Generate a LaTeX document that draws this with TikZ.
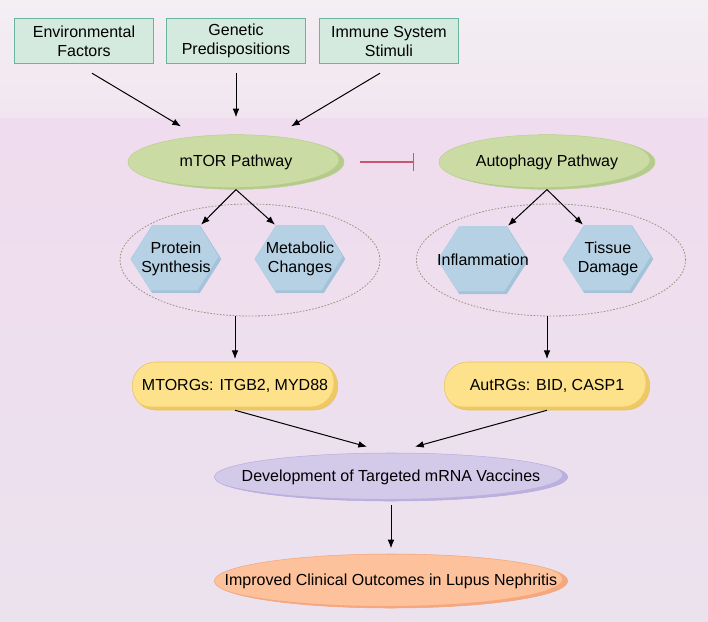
\documentclass[tikz,border=0pt]{standalone}
\usepackage{fontspec}
\setmainfont{Liberation Sans}
\usetikzlibrary{shapes.geometric,shapes.symbols,arrows.meta,calc}

\definecolor{bgtopA}{HTML}{F3EFF3}
\definecolor{bgtopB}{HTML}{F1E6F0}
\definecolor{bgmainA}{HTML}{EFDCEE}
\definecolor{bgmainB}{HTML}{ECE2EE}
\definecolor{boxfill}{HTML}{D4EADF}
\definecolor{boxline}{HTML}{6AB5A0}
\definecolor{pathfill}{HTML}{CADBA4}
\definecolor{pathline}{HTML}{BCD092}
\definecolor{pathshade}{HTML}{B5CB8C}
\definecolor{hexfill}{HTML}{B6D1E3}
\definecolor{hexshade}{HTML}{A3C3DA}
\definecolor{groupline}{HTML}{9A9480}
\definecolor{genefill}{HTML}{FDE28B}
\definecolor{geneline}{HTML}{E7C466}
\definecolor{geneshade}{HTML}{EDC865}
\definecolor{vacfill}{HTML}{D3CAEA}
\definecolor{vacline}{HTML}{B9ADDC}
\definecolor{vacshade}{HTML}{BCB0DE}
\definecolor{outfill}{HTML}{FDC29C}
\definecolor{outline}{HTML}{F2A680}
\definecolor{outshade}{HTML}{F5A87E}
\definecolor{inhib}{HTML}{C8566E}

\begin{document}
\begin{tikzpicture}[x=0.75pt,y=-0.75pt,>={Latex[length=6.5pt,width=5pt]},
  font=\fontsize{12}{14.25}\selectfont,
  shadow ellipse/.style={path picture={\fill[#1, even odd rule]
      (path picture bounding box.south west) rectangle (path picture bounding box.north east)
      let \p1=($(path picture bounding box.north east)-(path picture bounding box.center)$) in
      ($(path picture bounding box.center)+(-4pt,1.5pt)$) ellipse [x radius=\x1, y radius=\y1];}},
  shadow stadium/.style={path picture={\fill[#1, even odd rule]
      (path picture bounding box.south west) rectangle (path picture bounding box.north east)
      [rounded corners=17.5pt] ($(path picture bounding box.south west)+(-3pt,2.5pt)$)
      rectangle ($(path picture bounding box.north east)+(-3pt,2.5pt)$);}},
  shadow hexagon/.style={path picture={\fill[hexshade] (path picture bounding box.south west)
      rectangle (path picture bounding box.north east);
      \coordinate (hc) at ($(path picture bounding box.center)+(-2pt,2pt)$);
      \fill[hexfill] let \p1=($(path picture bounding box.north east)-(path picture bounding box.center)$) in
      (hc) +(-\x1,0pt) -- +({-0.53*\x1},-\y1) -- +({0.53*\x1},-\y1) -- +(\x1,0pt)
      -- +({0.53*\x1},\y1) -- +({-0.53*\x1},\y1) -- cycle;}},
  factor/.style={draw=boxline, fill=boxfill, line width=0.8pt, minimum width=104pt, minimum height=34pt, align=center, inner sep=1pt},
  pathway/.style={ellipse, draw=pathline, fill=pathfill, shadow ellipse=pathshade, minimum width=162pt, minimum height=41pt, inner sep=0pt},
  effect/.style={signal, signal to=east and west, signal pointer angle=115, fill=hexfill, shadow hexagon, minimum width=68pt, minimum height=51pt, inner xsep=-24pt, inner ysep=0pt, align=center},
  group/.style={ellipse, draw=groupline, dash pattern=on 1.2pt off 1.2pt, line width=0.6pt},
  genes/.style={draw=geneline, fill=genefill, shadow stadium=geneshade, rounded corners=17.5pt, minimum width=154pt, minimum height=36pt},
  goal/.style={ellipse, minimum width=265pt, inner xsep=-60pt, inner ysep=0pt},
  link/.style={->, line width=0.75pt, black}]

\useasboundingbox (0,0) rectangle (708,622);
% background bands
\shade[top color=bgtopA, bottom color=bgtopB] (0,0) rectangle (708,118);
\shade[top color=bgmainA, bottom color=bgmainB] (0,118) rectangle (708,622);

% input factors
\node[factor] (f1) at (84,41) {Environmental\\Factors};
\node[factor] (f2) at (236,41) {Genetic\\Predispositions};
\node[factor] (f3) at (389,41) {Immune System\\Stimuli};

% pathways
\node[pathway] (p1) at (236,162) {mTOR Pathway};
\node[pathway] (p2) at (547,162) {Autophagy Pathway};

\draw[link] ($(f1.south)+(8,9)$) -- ($(p1.north)+(-55,-8)$);
\draw[link] ($(f2.south)+(0,9)$) -- ($(p1.north)+(0,-17)$);
\draw[link] ($(f3.south)+(-9,9)$) -- ($(p1.north)+(55,-8)$);
\draw[-{Bar[width=13.5pt]}, inhib, line width=0.8pt] ($(p1.east)+(16,0)$) -- ($(p2.west)+(-25,0)$);

% effects
\node[group, minimum width=195pt, minimum height=84pt] (d1) at (250,260) {};
\node[group, minimum width=202pt, minimum height=84pt] (d2) at (551,260) {};
\node[effect] (h1) at (176,259) {Protein\\Synthesis};
\node[effect] (h2) at (300,259) {Metabolic\\Changes};
\node[effect] (h3) at (483,260) {Inflammation};
\node[effect] (h4) at (608,259) {Tissue\\Damage};

\draw[link] (p1.south) -- ($(h1.north)+(25,0)$);
\draw[link] (p1.south) -- ($(h2.north)+(-25,0)$);
\draw[link] (p2.south) -- ($(h3.north)+(25,0)$);
\draw[link] (p2.south) -- ($(h4.north)+(-25,0)$);

% genes
\node[genes] (g1) at (235,386) {MTORGs: ITGB2, MYD88};
\node[genes] (g2) at (547,386) {AutRGs: BID, CASP1};
\draw[link, shorten >=2pt] (d1.south -| g1.north) -- (g1.north);
\draw[link, shorten >=2pt] (d2.south -| g2.north) -- (g2.north);

% outcome
\node[goal, draw=vacline, fill=vacfill, shadow ellipse=vacshade, minimum height=36pt] (v1) at (391,477) {Development of Targeted mRNA Vaccines};
\node[goal, draw=outline, fill=outfill, shadow ellipse=outshade, minimum height=40.5pt] (o1) at (391,581) {Improved Clinical Outcomes in Lupus Nephritis};
\draw[link] (g1.south) -- ($(v1.north)+(-24,-6)$);
\draw[link] (g2.south) -- ($(v1.north)+(24,-6)$);
\draw[link, shorten <=3pt, shorten >=4pt] (v1.south) -- (o1.north);
\end{tikzpicture}
\end{document}
